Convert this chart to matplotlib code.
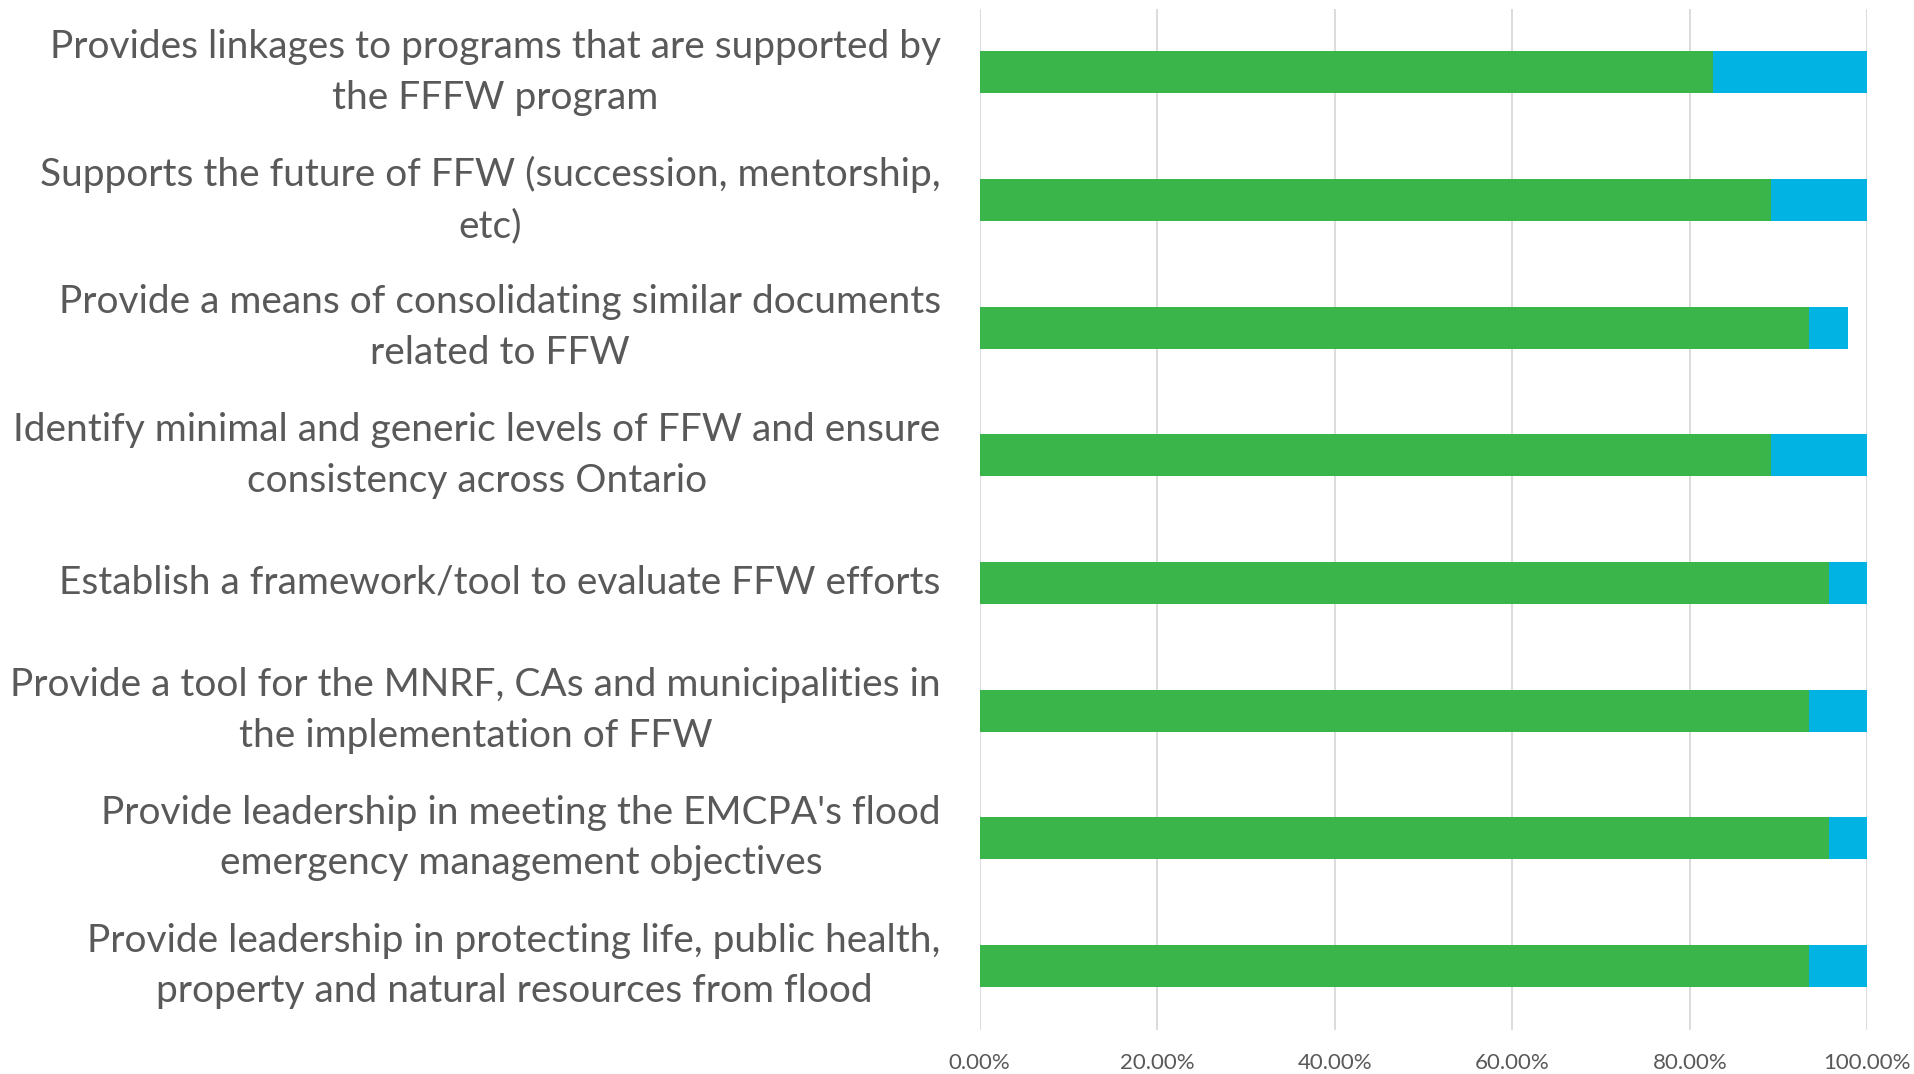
import numpy as np
import matplotlib
matplotlib.use('Agg')
import matplotlib.pyplot as plt
from matplotlib.ticker import FuncFormatter
from matplotlib.transforms import ScaledTranslation

plt.rcParams['font.family'] = ['Lato', 'DejaVu Sans']

categories = [
    'Provides linkages to programs that are supported by\nthe FFFW program',
    'Supports the future of FFW (succession, mentorship,\netc)',
    'Provide a means of consolidating similar documents\nrelated to FFW',
    'Identify minimal and generic levels of FFW and ensure\nconsistency across Ontario',
    'Establish a framework/tool to evaluate FFW efforts',
    'Provide a tool for the MNRF, CAs and municipalities in\nthe implementation of FFW',
    "Provide leadership in meeting the EMCPA's flood\nemergency management objectives",
    'Provide leadership in protecting life, public health,\nproperty and natural resources from flood',
]
green_vals = [0.8261, 0.8913, 0.9348, 0.8913, 0.9565, 0.9348, 0.9565, 0.9348]
blue_vals = [0.1739, 0.1087, 0.0435, 0.1087, 0.0435, 0.0652, 0.0435, 0.0652]

fig = plt.figure(figsize=(19.15, 10.74), dpi=100)
ax = fig.add_axes([0.5115, 0.0413, 0.4636, 0.9507])

y = np.arange(len(categories))
ax.barh(y, green_vals, height=0.33, color='#39B54A', zorder=3)
ax.barh(y, blue_vals, left=green_vals, height=0.33, color='#00B3E3', zorder=3)

ax.set_xlim(0, 1)
ax.set_ylim(len(categories) - 0.5, -0.5)
ax.set_xticks(np.arange(0, 1.01, 0.2))
ax.xaxis.set_major_formatter(FuncFormatter(lambda v, p: f'{v*100:.2f}%'))
ax.set_yticks(y)
ax.set_yticklabels([])

# category labels as text so multi-line ones center on the bar
trans = ax.get_yaxis_transform() + ScaledTranslation(-28/72, 0, fig.dpi_scale_trans)
for yi, cat in zip(y, categories):
    ax.text(0, yi, cat, transform=trans, ha='right', va='center',
            multialignment='center', linespacing=1.5, fontsize=28, color='#595959')

ax.grid(axis='x', color='#D9D9D9', lw=1.3, zorder=0)
for s in ax.spines.values():
    s.set_visible(False)
ax.tick_params(axis='y', length=0)
ax.tick_params(axis='x', length=0, pad=17, labelsize=16, labelcolor='#595959')

fig.savefig('out.png', dpi=100, facecolor='white')
